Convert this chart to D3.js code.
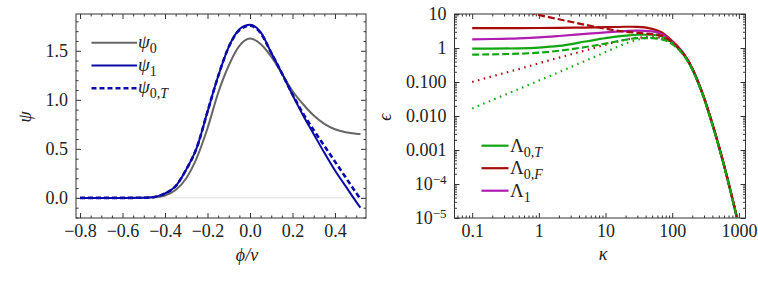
<!DOCTYPE html>
<html>
<head>
<meta charset="utf-8">
<script src="https://cdn.jsdelivr.net/npm/d3@7"></script>
<style>
  body { margin: 0; background: #fff; }
  svg text { font-family: "Liberation Serif", "DejaVu Serif", serif; fill: #222; }
</style>
</head>
<body>
<script>
// left panel: psi vs phi/nu
const phi   = [-0.8, -0.7, -0.6, -0.5, -0.45, -0.4, -0.35, -0.3, -0.25, -0.2, -0.15, -0.1, -0.05, 0, 0.05, 0.1, 0.15, 0.2, 0.25, 0.3, 0.35, 0.4, 0.45, 0.5, 0.52];
const psi0  = [0, 0, 0, 0.001, 0.006, 0.025, 0.08, 0.2, 0.41, 0.71, 1.07, 1.35, 1.55, 1.625, 1.57, 1.44, 1.27, 1.09, 0.955, 0.84, 0.755, 0.70, 0.67, 0.655, 0.652];
const psi1  = [0, 0, 0, 0.002, 0.01, 0.045, 0.12, 0.29, 0.515, 0.88, 1.24, 1.54, 1.72, 1.765, 1.69, 1.48, 1.27, 1.05, 0.84, 0.65, 0.46, 0.28, 0.12, -0.04, -0.1];
const psi0T = [0, 0, 0, 0.002, 0.01, 0.045, 0.12, 0.29, 0.515, 0.88, 1.24, 1.54, 1.71, 1.755, 1.68, 1.48, 1.27, 1.055, 0.86, 0.69, 0.53, 0.37, 0.21, 0.05, -0.01];
const phiMajor = [-0.8, -0.6, -0.4, -0.2, 0, 0.2, 0.4];
const psiMajor = [0, 0.5, 1.0, 1.5];

// right panel: epsilon vs kappa
const kappa     = [0.1, 0.2, 0.5, 1, 2, 5, 10, 20, 30, 50, 70, 100, 130, 160, 200, 250, 300, 350, 400, 450, 500, 600, 700, 800, 900, 1000];
const lam0F     = [3.85, 3.85, 3.86, 3.88, 3.92, 4.0, 4.1, 4.22, 4.2, 3.65, 2.85, 1.6, 0.96, 0.56, 0.255, 0.093, 0.0355, 0.0141, 0.006, 0.0028, 0.00135, 3.6e-4, 1.1e-4, 3.8e-5, 1.45e-5, 5.7e-6];
const lam1      = [1.8, 1.84, 1.93, 2.05, 2.25, 2.6, 2.9, 3.15, 3.25, 3.1, 2.6, 1.52, 0.92, 0.54, 0.245, 0.089, 0.034, 0.0135, 0.0058, 0.0027, 0.0013, 3.5e-4, 1.07e-4, 3.7e-5, 1.4e-5, 5.5e-6];
const lam0T     = [0.96, 0.96, 0.98, 1.03, 1.15, 1.55, 1.95, 2.3, 2.45, 2.45, 2.2, 1.42, 0.87, 0.515, 0.235, 0.086, 0.033, 0.013, 0.0056, 0.0026, 0.00125, 3.4e-4, 1.03e-4, 3.6e-5, 1.35e-5, 5.3e-6];
const lam0TDash = [0.64, 0.65, 0.68, 0.73, 0.83, 1.07, 1.35, 1.75, 1.95, 1.95, 1.8, 1.3, 0.83, 0.5, 0.232, 0.085, 0.033, 0.013, 0.0056, 0.0026, 0.00125, 3.4e-4, 1.03e-4, 3.6e-5, 1.35e-5, 5.3e-6];
const lam0FDash = [null, null, 13.5, 9.4, 7.0, 4.8, 3.7, 3.0, 2.8, 2.55, 2.3, 1.5, 0.91, 0.54, 0.248, 0.09, 0.0345, 0.0137, 0.0059, 0.0027, 0.0013, 3.5e-4, 1.07e-4, 3.7e-5, 1.4e-5, 5.5e-6];
const lam0FDot  = [0.1, 0.147, 0.24, 0.355, 0.52, 0.85, 1.25, 1.75, 2.0, 2.1, 1.95, 1.45, 0.89, 0.53, 0.242, 0.088, 0.034, 0.0135, 0.0058, 0.0027, 0.0013, 3.5e-4, 1.07e-4, 3.7e-5, 1.4e-5, 5.5e-6];
const lam0TDot  = [0.0166, 0.0295, 0.062, 0.11, 0.195, 0.42, 0.76, 1.35, 1.75, 2.0, 1.9, 1.4, 0.87, 0.515, 0.235, 0.086, 0.033, 0.013, 0.0056, 0.0026, 0.00125, 3.4e-4, 1.03e-4, 3.6e-5, 1.35e-5, 5.3e-6];
const kappaMajor = [0.1, 1, 10, 100, 1000];
const epsMajor   = [10, 1, 0.1, 0.01, 0.001, 1e-4, 1e-5];

const W = 758, H = 285;
const svg = d3.select("body").append("svg").attr("width", W).attr("height", H);

const GRAY = "#666", BLUE = "#0a0aa8", GREEN = "#11a511", RED = "#a80c0c", MAG = "#b01cb0";
const TICKFONT = 18;

// frame with inward ticks on all four sides
function frame(g, x, y, xMaj, xMin, yMaj, yMin, xFmt, yFmt, id) {
  const [x0, x1] = x.range(), [y0, y1] = y.range();
  const noRm = s => s.select(".domain").remove();
  const ax = [
    [d3.axisBottom, x, y0, true], [d3.axisTop, x, y1, false],
    [d3.axisLeft, y, x0, true], [d3.axisRight, y, x1, false]
  ];
  ax.forEach(([fn, sc, pos, lab]) => {
    const horiz = (fn === d3.axisBottom || fn === d3.axisTop);
    const tr = horiz ? `translate(0,${pos})` : `translate(${pos},0)`;
    const maj = horiz ? xMaj : yMaj, min = horiz ? xMin : yMin;
    g.append("g").attr("transform", tr).attr("color", "#333")
      .call(fn(sc).tickValues(min).tickSize(-2.5).tickFormat("")).call(noRm)
      .selectAll("text").remove();
    const a = g.append("g").attr("transform", tr).attr("color", "#333")
      .attr("class", lab ? (horiz ? "maj xlab" : "maj ylab") : "maj")
      .call(fn(sc).tickValues(maj).tickSize(-5)
        .tickPadding(horiz ? 6 : 8)
        .tickFormat(lab ? (horiz ? xFmt : yFmt) : ""))
      .call(noRm);
    if (!lab) a.selectAll("text").remove();
    a.selectAll("text").attr("font-size", TICKFONT).attr("fill", "#222")
      .style("font-family", "'Liberation Serif', serif");
  });
  g.append("rect").attr("x", x0).attr("y", y1).attr("width", x1 - x0).attr("height", y0 - y1)
    .attr("fill", "none").attr("stroke", "#333").attr("stroke-width", 1);
  g.append("clipPath").attr("id", id).append("rect")
    .attr("x", x0).attr("y", y1).attr("width", x1 - x0).attr("height", y0 - y1);
}

// ---------- left panel
const xL = d3.scaleLinear().domain([-0.819, 0.546]).range([76, 366]);
const yL = d3.scaleLinear().domain([-0.205, 1.875]).range([218, 14]);
const gL = svg.append("g");

gL.append("line").attr("x1", xL.range()[0]).attr("x2", xL.range()[1])
  .attr("y1", yL(0)).attr("y2", yL(0)).attr("stroke", "#e2e2e2").attr("stroke-width", 1);

const phiMinor = d3.range(-0.8, 0.55, 0.05).map(v => +v.toFixed(2)).filter(v => !phiMajor.includes(v));
const psiMinor = d3.range(-0.2, 1.85, 0.1).map(v => +v.toFixed(1)).filter(v => !psiMajor.includes(v));
frame(gL, xL, yL, phiMajor, phiMinor, psiMajor, psiMinor, d3.format(".1f"), d3.format(".1f"), "clipL");

const lineL = ys => d3.line().x((d, i) => xL(phi[i])).y((d, i) => yL(ys[i])).curve(d3.curveMonotoneX)(ys);
const plotL = gL.append("g").attr("clip-path", "url(#clipL)");
plotL.append("path").attr("d", lineL(psi0)).attr("fill", "none").attr("stroke", GRAY).attr("stroke-width", 2);
plotL.append("path").attr("d", lineL(psi1)).attr("fill", "none").attr("stroke", BLUE).attr("stroke-width", 2);
plotL.append("path").attr("d", lineL(psi0T)).attr("fill", "none").attr("stroke", BLUE).attr("stroke-width", 2.6)
  .attr("stroke-dasharray", "5,3");

// legend
function subLabel(g, x, y, main, subs, italicMain) {
  const t = g.append("text").attr("x", x).attr("y", y).attr("font-size", 19);
  t.append("tspan").text(main).attr("font-style", italicMain ? "italic" : "normal");
  subs.forEach(([s, it], i) => {
    t.append("tspan").text(s).attr("font-size", 14).attr("font-style", it ? "italic" : "normal")
      .attr("dy", i === 0 ? 5 : 0);
  });
}
const legL = [
  { name: "ψ", subs: [["0", false]], color: GRAY, dash: null, w: 2 },
  { name: "ψ", subs: [["1", false]], color: BLUE, dash: null, w: 2 },
  { name: "ψ", subs: [["0,", false], ["T", true]], color: BLUE, dash: "5,3", w: 2.6 }
];
legL.forEach((d, i) => {
  const y = 42.7 + i * 22.8;
  gL.append("line").attr("x1", 91.5).attr("x2", 137).attr("y1", y).attr("y2", y)
    .attr("stroke", d.color).attr("stroke-width", d.w).attr("stroke-dasharray", d.dash);
  subLabel(gL, 138, y + 5, d.name, d.subs, true);
});

gL.append("text").attr("transform", "translate(31,117) rotate(-90)").attr("text-anchor", "middle")
  .attr("font-size", 18).attr("font-style", "italic").text("ψ");
gL.append("text").attr("x", 247).attr("y", 261).attr("text-anchor", "middle")
  .attr("font-size", 18).attr("font-style", "italic").text("ϕ/ν");

// ---------- right panel
const xR = d3.scaleLog().domain([0.0543, 1257]).range([454.5, 745.5]);
const yR = d3.scaleLog().domain([1e-5, 10]).range([218, 14]);
const gR = svg.append("g");

const kMinor = [];
[0.01, 0.1, 1, 10, 100, 1000].forEach(b => d3.range(2, 10).forEach(m => {
  const v = b * m; if (v > 0.0543 && v < 1257) kMinor.push(v);
}));
const eMinor = [];
[1e-5, 1e-4, 1e-3, 1e-2, 0.1, 1].forEach(b => d3.range(2, 10).forEach(m => eMinor.push(b * m)));

const epsFmt = d => d >= 1 ? String(d) : d >= 0.001 ? d3.format(".3f")(d) : "10";
frame(gR, xR, yR, kappaMajor, kMinor, epsMajor, eMinor, d => String(d), epsFmt, "clipR");

// power-of-ten labels with superscript exponent
gR.selectAll("g.ylab .tick text").filter(d => d < 0.001).each(function(d) {
  const e = Math.round(Math.log10(d));
  d3.select(this).append("tspan").attr("dy", "-0.45em").attr("font-size", 13).text("−" + Math.abs(e));
});

const lineR = ys => d3.line().defined((d, i) => ys[i] != null)
  .x((d, i) => xR(kappa[i])).y((d, i) => yR(ys[i])).curve(d3.curveMonotoneX)(ys);
const plotR = gR.append("g").attr("clip-path", "url(#clipR)");
const seriesR = [
  { ys: lam0F, color: RED, dash: null },
  { ys: lam1, color: MAG, dash: null },
  { ys: lam0T, color: GREEN, dash: null },
  { ys: lam0FDot, color: RED, dash: "1.5,4.5" },
  { ys: lam0TDot, color: GREEN, dash: "1.5,4.5" },
  { ys: lam0FDash, color: RED, dash: "7,3" },
  { ys: lam0TDash, color: GREEN, dash: "7,3" }
];
seriesR.forEach(s => {
  plotR.append("path").attr("d", lineR(s.ys)).attr("fill", "none").attr("stroke", s.color)
    .attr("stroke-width", 2.2).attr("stroke-dasharray", s.dash);
});

const legR = [
  { subs: [["0,", false], ["T", true]], color: GREEN },
  { subs: [["0,", false], ["F", true]], color: RED },
  { subs: [["1", false]], color: MAG }
];
legR.forEach((d, i) => {
  const y = 145.7 + i * 22.5;
  gR.append("line").attr("x1", 481.5).attr("x2", 508.5).attr("y1", y).attr("y2", y)
    .attr("stroke", d.color).attr("stroke-width", 2.2);
  subLabel(gR, 510, y + 6, "Λ", d.subs, false);
});

gR.append("text").attr("transform", "translate(391,117) rotate(-90)").attr("text-anchor", "middle")
  .attr("font-size", 18).attr("font-style", "italic").text("ϵ");
gR.append("text").attr("x", 603).attr("y", 260).attr("text-anchor", "middle")
  .attr("font-size", 18).attr("font-style", "italic").text("κ");
</script>
</body>
</html>
